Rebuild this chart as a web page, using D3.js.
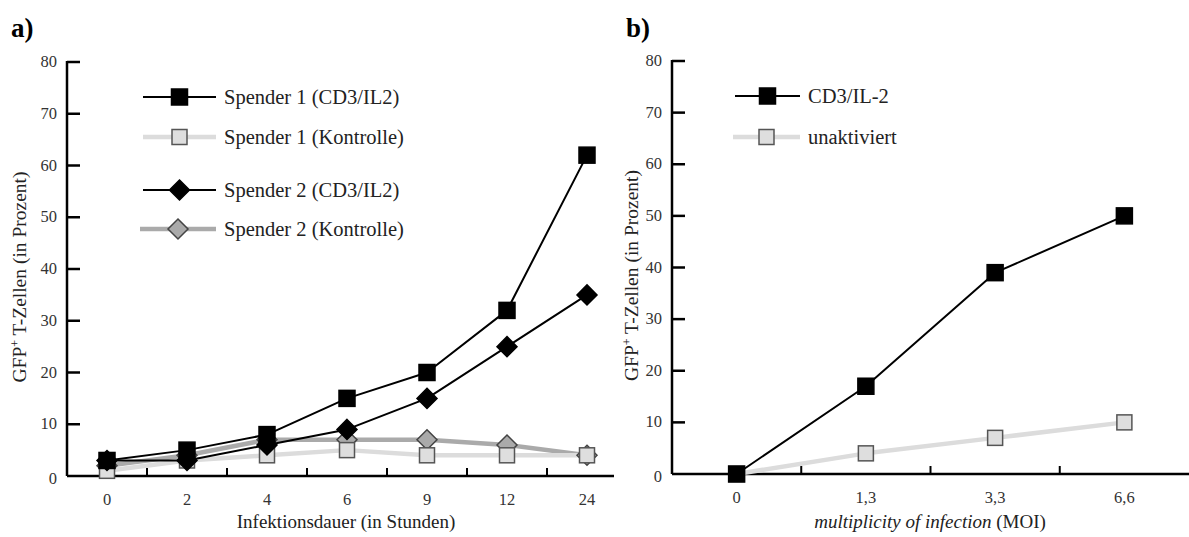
<!DOCTYPE html>
<html>
<head>
<meta charset="utf-8">
<script src="https://cdn.jsdelivr.net/npm/d3@7"></script>
<style>
  body { margin: 0; background: #fff; }
  svg { font-family: "Liberation Serif", "Times New Roman", serif; }
</style>
</head>
<body>
<svg id="chart" width="1189" height="537"></svg>
<script>
// Panel a) data
const hoursLabels = ['0', '2', '4', '6', '9', '12', '24'];
const s1Cd3 = [3, 5, 8, 15, 20, 32, 62];
const s1Ctrl = [1, 3, 4, 5, 4, 4, 4];
const s2Cd3 = [3, 3, 6, 9, 15, 25, 35];
const s2Ctrl = [2, 4, 7, 7, 7, 6, 4];

// Panel b) data
const moiLabels = ['0', '1,3', '3,3', '6,6'];
const moiCd3 = [0, 17, 39, 50];
const moiUnakt = [0, 4, 7, 10];

const yTicks = [0, 10, 20, 30, 40, 50, 60, 70, 80];

const svg = d3.select('#chart');
const textColor = '#222';

// marker styles
const styles = {
    blackSquare: { line: '#000', width: 2, shape: 'square', fill: '#000', stroke: '#000', size: 16 },
    lightSquare: { line: '#dcdcdc', width: 4.5, shape: 'square', fill: '#dedede', stroke: '#555', size: 15 },
    blackDiamond: { line: '#000', width: 2, shape: 'diamond', fill: '#000', stroke: '#000', size: 20 },
    grayDiamond: { line: '#aaa', width: 4.5, shape: 'diamond', fill: '#aaa', stroke: '#444', size: 20 }
};

function drawMarker(g, x, y, st) {
    if (st.shape === 'square') {
        g.append('rect')
            .attr('x', x - st.size / 2)
            .attr('y', y - st.size / 2)
            .attr('width', st.size)
            .attr('height', st.size)
            .attr('fill', st.fill)
            .attr('stroke', st.stroke)
            .attr('stroke-width', 1.5);
    } else {
        const h = st.size / 2;
        g.append('path')
            .attr('d', `M${x},${y - h}L${x + h},${y}L${x},${y + h}L${x - h},${y}Z`)
            .attr('fill', st.fill)
            .attr('stroke', st.stroke)
            .attr('stroke-width', 1.5);
    }
}

function drawPanel(opts) {
    const x = d3.scaleBand()
        .domain(opts.categories)
        .range([opts.left, opts.right]);
    const y = d3.scaleLinear()
        .domain([0, 80])
        .range([opts.bottom, opts.top]);

    const g = svg.append('g');

    // y axis
    g.append('line')
        .attr('x1', opts.left).attr('x2', opts.left)
        .attr('y1', y(80) - 1).attr('y2', y(0))
        .attr('stroke', '#000').attr('stroke-width', 2.5);
    yTicks.forEach(t => {
        if (t > 0) {
            g.append('line')
                .attr('x1', opts.left).attr('x2', opts.left + 13)
                .attr('y1', y(t)).attr('y2', y(t))
                .attr('stroke', '#000').attr('stroke-width', 2.5);
        }
        g.append('text')
            .attr('x', opts.left - 10)
            .attr('y', y(t) + (t === 0 ? 8 : 5))
            .attr('text-anchor', 'end')
            .attr('font-size', 16.5)
            .attr('fill', '#333')
            .text(t);
    });

    // x axis
    g.append('line')
        .attr('x1', opts.left).attr('x2', opts.axisEnd)
        .attr('y1', y(0)).attr('y2', y(0))
        .attr('stroke', '#000').attr('stroke-width', 2.5);
    opts.categories.forEach((c, i) => {
        if (i > 0) {
            const tx = x(c);
            g.append('line')
                .attr('x1', tx).attr('x2', tx)
                .attr('y1', y(0)).attr('y2', y(0) - 8)
                .attr('stroke', '#000').attr('stroke-width', 2);
        }
        g.append('text')
            .attr('x', x(c) + x.bandwidth() / 2)
            .attr('y', y(0) + 29)
            .attr('text-anchor', 'middle')
            .attr('font-size', 16.5)
            .attr('fill', '#333')
            .text(c);
    });

    // series
    const line = d3.line()
        .x((d, i) => x(opts.categories[i]) + x.bandwidth() / 2)
        .y(d => y(d));

    opts.series.forEach(s => {
        g.append('path')
            .datum(s.values)
            .attr('d', line)
            .attr('fill', 'none')
            .attr('stroke', s.style.line)
            .attr('stroke-width', s.style.width)
            .attr('stroke-linejoin', 'round');
    });
    opts.series.forEach(s => {
        s.values.forEach((v, i) => {
            drawMarker(g, x(opts.categories[i]) + x.bandwidth() / 2, y(v), s.style);
        });
    });

    // legend
    opts.legend.forEach(l => {
        g.append('line')
            .attr('x1', l.x1).attr('x2', l.x2)
            .attr('y1', l.y).attr('y2', l.y)
            .attr('stroke', l.style.line)
            .attr('stroke-width', l.style.width);
        drawMarker(g, (l.x1 + l.x2) / 2, l.y, l.style);
        g.append('text')
            .attr('x', l.x2 + 8)
            .attr('y', l.y + 7)
            .attr('font-size', 20.5)
            .attr('fill', textColor)
            .text(l.label);
    });

    // y title
    const yt = g.append('text')
        .attr('transform', `translate(${opts.yTitleX},${(y(0) + y(80)) / 2 + 8}) rotate(-90)`)
        .attr('text-anchor', 'middle')
        .attr('font-size', 19.5)
        .attr('fill', textColor);
    yt.append('tspan').text('GFP');
    yt.append('tspan').attr('font-size', 12).attr('dy', -7).text('+');
    yt.append('tspan').attr('dy', 7).text(' T-Zellen (in Prozent)');

    // x title
    const xt = g.append('text')
        .attr('x', opts.xTitleX)
        .attr('y', 528)
        .attr('text-anchor', 'middle')
        .attr('font-size', 19)
        .attr('fill', textColor);
    opts.xTitle.forEach(p => {
        xt.append('tspan').attr('font-style', p.italic ? 'italic' : 'normal').text(p.text);
    });

    // panel letter
    g.append('text')
        .attr('x', opts.letterX)
        .attr('y', 37)
        .attr('font-size', 27)
        .attr('font-weight', 'bold')
        .attr('fill', '#000')
        .text(opts.letter);
}

drawPanel({
    categories: hoursLabels,
    left: 67, right: 627, axisEnd: 614,
    top: 62, bottom: 476,
    series: [
        { values: s2Ctrl, style: styles.grayDiamond },
        { values: s1Ctrl, style: styles.lightSquare },
        { values: s2Cd3, style: styles.blackDiamond },
        { values: s1Cd3, style: styles.blackSquare }
    ],
    legend: [
        { label: 'Spender 1 (CD3/IL2)', style: styles.blackSquare, x1: 143, x2: 216, y: 97 },
        { label: 'Spender 1 (Kontrolle)', style: styles.lightSquare, x1: 143, x2: 216, y: 137 },
        { label: 'Spender 2 (CD3/IL2)', style: styles.blackDiamond, x1: 143, x2: 216, y: 190 },
        { label: 'Spender 2 (Kontrolle)', style: styles.grayDiamond, x1: 140, x2: 216, y: 229 }
    ],
    yTitleX: 26,
    xTitleX: 346,
    xTitle: [{ text: 'Infektionsdauer (in Stunden)', italic: false }],
    letter: 'a)',
    letterX: 11
});

drawPanel({
    categories: moiLabels,
    left: 672, right: 1189, axisEnd: 1189,
    top: 61, bottom: 474,
    series: [
        { values: moiUnakt, style: styles.lightSquare },
        { values: moiCd3, style: styles.blackSquare }
    ],
    legend: [
        { label: 'CD3/IL-2', style: styles.blackSquare, x1: 735, x2: 800, y: 96 },
        { label: 'unaktiviert', style: styles.lightSquare, x1: 733, x2: 800, y: 137 }
    ],
    yTitleX: 638,
    xTitleX: 930,
    xTitle: [{ text: 'multiplicity of infection', italic: true }, { text: ' (MOI)', italic: false }],
    letter: 'b)',
    letterX: 626
});
</script>
</body>
</html>
